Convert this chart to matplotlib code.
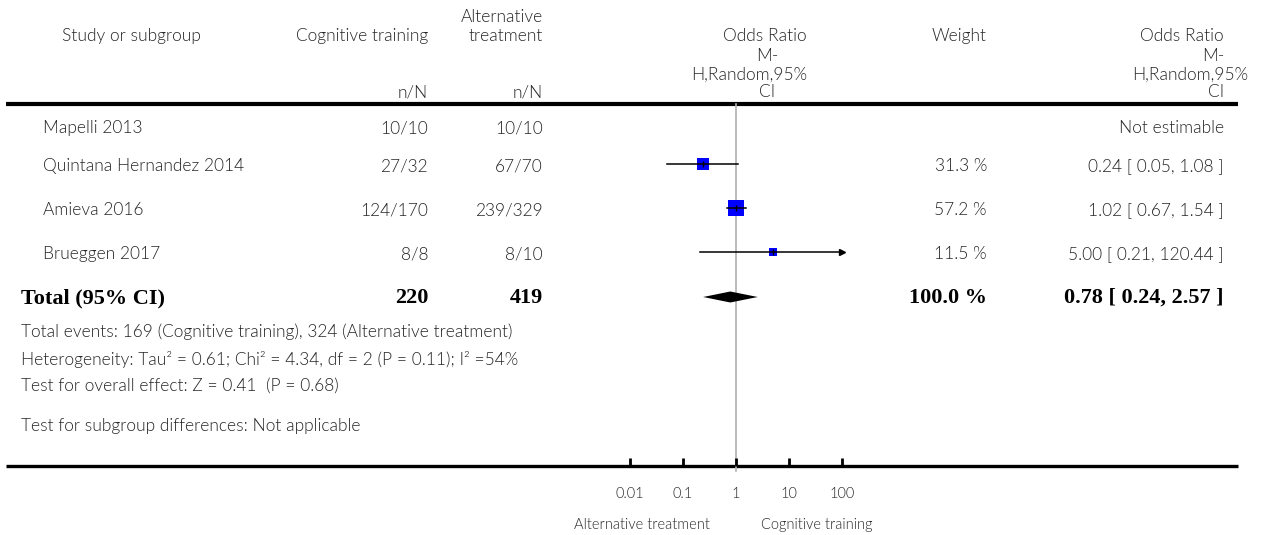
import numpy as np
import matplotlib
matplotlib.use("Agg")
import matplotlib.pyplot as plt
from matplotlib.ticker import FixedLocator, FixedFormatter

# data
studies = ["Mapelli 2013", "Quintana Hernandez 2014", "Amieva 2016", "Brueggen 2017"]
cog_events = [10, 27, 124, 8]
cog_total = [10, 32, 170, 8]
alt_events = [10, 67, 239, 8]
alt_total = [10, 70, 329, 10]
odds = [np.nan, 0.24, 1.02, 5.00]
ci_low = [np.nan, 0.05, 0.67, 0.21]
ci_high = [np.nan, 1.08, 1.54, 120.44]
weights = [np.nan, 31.3, 57.2, 11.5]

total_cog = 220
total_alt = 419
total_weight = 100.0
total_or = 0.78
total_low = 0.24
total_high = 2.57

footnotes = [
    "Total events: 169 (Cognitive training), 324 (Alternative treatment)",
    "Heterogeneity: Tau\u00b2 = 0.61; Chi\u00b2 = 4.34, df = 2 (P = 0.11); I\u00b2 =54%",
    "Test for overall effect: Z = 0.41  (P = 0.68)",
    "Test for subgroup differences: Not applicable",
]
axis_ticks = [0.01, 0.1, 1, 10, 100]
axis_ticklabels = ["0.01", "0.1", "1", "10", "100"]

# layout (pixels)
W, H = 1266, 535
row_y = [126, 164, 208, 252]
total_y = 297
note_y = [330, 357, 384, 424]
top_line, bottom_line = 104, 466

sans = "Lato"
serif = "Liberation Serif"
txt = "#262626"
fs = 12.5
wt = 300

fig = plt.figure(figsize=(W / 100, H / 100), dpi=100)
bg = fig.add_axes([0, 0, 1, 1])
bg.set_xlim(0, W)
bg.set_ylim(H, 0)
bg.axis("off")

def t(x, y, s, ha="left", dy=1, **kw):
    kw.setdefault("family", sans)
    kw.setdefault("fontsize", fs)
    kw.setdefault("color", txt)
    kw.setdefault("fontweight", wt)
    bg.text(x, y + dy, s, ha=ha, va="center", **kw)

# header
t(62, 35, "Study or subgroup")
t(428, 35, "Cognitive training", ha="right")
t(543, 16, "Alternative", ha="right")
t(543, 35, "treatment", ha="right")
t(428, 92, "n/N", ha="right")
t(543, 92, "n/N", ha="right")
t(807, 35, "Odds Ratio", ha="right")
t(767, 55, "M-", ha="center")
t(807, 74, "H,Random,95%", ha="right")
t(767, 91, "CI", ha="center")
t(987, 35, "Weight", ha="right")
t(1224, 35, "Odds Ratio", ha="right")
t(1224, 55, "M-", ha="right")
t(1248, 74, "H,Random,95%", ha="right")
t(1224, 91, "CI", ha="right")

bg.plot([6, 1238], [top_line, top_line], color="black", lw=3, solid_capstyle="butt")
bg.plot([6, 1238], [bottom_line, bottom_line], color="black", lw=2.4, solid_capstyle="butt")

# study rows
for i, y in enumerate(row_y):
    t(43, y, studies[i], dy=2)
    t(428, y, f"{cog_events[i]}/{cog_total[i]}", ha="right", dy=2)
    t(543, y, f"{alt_events[i]}/{alt_total[i]}", ha="right", dy=2)
    if np.isnan(odds[i]):
        t(1224, y, "Not estimable", ha="right", dy=2)
    else:
        t(987, y, f"{weights[i]:.1f} %", ha="right", dy=2)
        t(1224, y, f"{odds[i]:.2f} [ {ci_low[i]:.2f}, {ci_high[i]:.2f} ]", ha="right", dy=2)

# total row
bold = dict(family=serif, fontweight="bold", fontsize=16, color="black")
t(21, total_y, "Total (95% CI)", **bold)
t(428, total_y, str(total_cog), ha="right", **bold)
t(543, total_y, str(total_alt), ha="right", **bold)
t(987, total_y, f"{total_weight:.1f} %", ha="right", **bold)
t(1224, total_y, f"{total_or:.2f} [ {total_low:.2f}, {total_high:.2f} ]", ha="right", **bold)

for y, s in zip(note_y, footnotes):
    t(21, y, s, dy=2)

# forest panel on a log scale
x0, x1 = 630, 842
ax = fig.add_axes([x0 / W, (H - bottom_line) / H, (x1 - x0) / W, (bottom_line - top_line) / H])
ax.set_facecolor("none")
ax.set_xscale("log")
ax.set_xlim(axis_ticks[0], axis_ticks[-1])
ax.set_ylim(bottom_line, top_line)
for sp in ax.spines.values():
    sp.set_visible(False)
ax.yaxis.set_visible(False)
ax.xaxis.set_major_locator(FixedLocator(axis_ticks))
ax.xaxis.set_major_formatter(FixedFormatter(axis_ticklabels))
ax.xaxis.set_minor_locator(FixedLocator([]))
ax.tick_params(axis="x", direction="in", length=6, width=2, pad=15,
               labelsize=10.5, labelcolor=txt)
for lab in ax.get_xticklabels():
    lab.set_family(sans)
    lab.set_fontweight(wt)

ax.axvline(1, color="#b0b0b0", lw=1.2, zorder=1, ymax=1.0, ymin=-0.015, clip_on=False)

xmax = axis_ticks[-1]
for i, y in enumerate(row_y):
    if np.isnan(odds[i]):
        continue
    hi = min(ci_high[i], xmax)
    ax.plot([ci_low[i], hi], [y, y], color="black", lw=1.1, zorder=3, clip_on=False)
    if ci_high[i] > xmax:
        ax.plot(hi, y, marker=">", color="black", ms=4, zorder=3, clip_on=False)
    ax.plot(odds[i], y, marker="s", color="#0000ff", ms=1.61 * np.sqrt(weights[i]),
            mew=0, zorder=2)
    ax.plot(odds[i], y, marker="|", color="black", ms=4, mew=1, zorder=4)

dh = 5.5
ax.fill([total_low, total_or, total_high, total_or],
        [total_y, total_y - dh, total_y, total_y + dh], color="black", lw=0, zorder=3)

# direction labels under the axis
for x, s in [(642, "Alternative treatment"), (817, "Cognitive training")]:
    bg.text(x, 525, s, ha="center", va="center", family=sans, fontweight=wt,
            fontsize=10.5, color=txt)

fig.savefig("out.png", dpi=100)
